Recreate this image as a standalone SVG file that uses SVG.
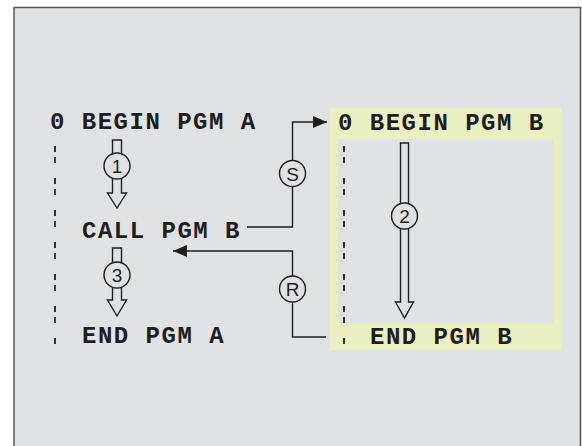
<svg xmlns="http://www.w3.org/2000/svg" width="582" height="446" viewBox="0 0 582 446">
<defs>
<style>
.code{font-family:"Liberation Mono","Courier New",monospace;font-weight:bold;font-size:24px;letter-spacing:1.5px;fill:#1e1e1e}
.lbl{font-family:"Liberation Sans",Arial,sans-serif;font-size:19px;fill:#1e1e1e;text-anchor:middle}
.ln{fill:none;stroke:#1e1e1e;stroke-width:1.4}
.hol{fill:#e1e2e4;stroke:#1e1e1e;stroke-width:1.4;stroke-linejoin:miter}
.dash{stroke:#333;stroke-width:2;stroke-dasharray:6 5 6 15}
</style>
<marker id="ah" viewBox="0 0 14 12" refX="14" refY="6" markerWidth="14" markerHeight="12" markerUnits="userSpaceOnUse" orient="auto">
<path d="M0,0 L14,6 L0,12 Z" fill="#1e1e1e"/>
</marker>
</defs>
<rect x="0" y="0" width="582" height="446" fill="#ffffff"/>
<rect id="frame" x="14" y="7.5" width="566.5" height="450" fill="#e1e2e4" stroke="#555" stroke-width="1.5"/>
<g id="pgmB-box">
<rect x="330" y="108" width="231" height="242" fill="#eaf0c2"/>
<rect x="338" y="139" width="215" height="184" fill="#e1e2e4"/>
</g>
<g id="dashes">
<line class="dash" x1="55" y1="146" x2="55" y2="344"/>
<line class="dash" x1="344" y1="146" x2="344" y2="344"/>
</g>
<g id="pgmA-begin"><text class="code" x="50" y="129">0 BEGIN PGM A</text></g>
<g id="pgmA-call"><text class="code" x="82" y="238">CALL PGM B</text></g>
<g id="pgmA-end"><text class="code" x="82" y="343">END PGM A</text></g>
<g id="pgmB-begin"><text class="code" x="338" y="130">0 BEGIN PGM B</text></g>
<g id="pgmB-end"><text class="code" x="370" y="344">END PGM B</text></g>
<g id="connectors">
<polyline class="ln" points="247,227 292.5,227 292.5,122 327,122" marker-end="url(#ah)"/>
<polyline class="ln" points="326,337 292.5,337 292.5,251 173,251" marker-end="url(#ah)"/>
</g>
<g id="step1">
<path class="hol" d="M112.5,140 H121.5 V193 H126.5 L117,208 L107.5,193 H112.5 Z"/>
<circle class="hol" cx="117" cy="166" r="13"/>
<text class="lbl" x="117" y="173">1</text>
</g>
<g id="step3">
<path class="hol" d="M112.5,248 H121.5 V300 H126.5 L117,316 L107.5,300 H112.5 Z"/>
<circle class="hol" cx="117" cy="275" r="13"/>
<text class="lbl" x="117" y="282">3</text>
</g>
<g id="step2">
<path class="hol" d="M400.5,143 H408.5 V302 H413.5 L404.5,318 L395.5,302 H400.5 Z"/>
<circle class="hol" cx="404.5" cy="216" r="13"/>
<text class="lbl" x="404.5" y="223">2</text>
</g>
<g id="S">
<circle class="hol" cx="292.5" cy="173.5" r="13"/>
<text class="lbl" x="292.5" y="180.5">S</text>
</g>
<g id="R">
<circle class="hol" cx="292.5" cy="289" r="13"/>
<text class="lbl" x="292.5" y="296">R</text>
</g>
</svg>
